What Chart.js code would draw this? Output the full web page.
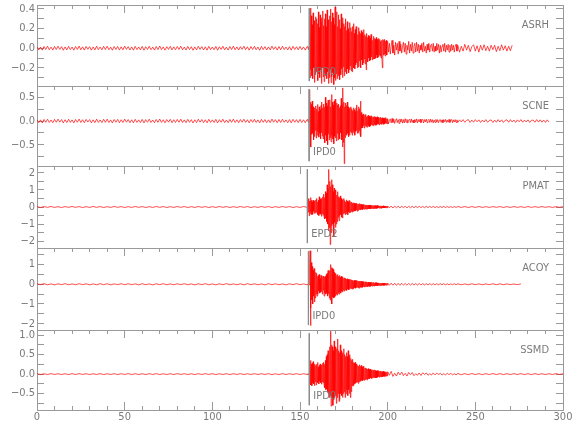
<!DOCTYPE html>
<html>
<head>
<meta charset="utf-8">
<script src="https://cdn.jsdelivr.net/npm/chart.js@4.4.1/dist/chart.umd.min.js"></script>
<style>
  body { margin: 0; background: #fff; overflow: hidden; }
  #wrap { position: relative; width: 580px; height: 440px; }
  #wrap canvas { position: absolute; left: 0; top: 0; }
</style>
</head>
<body>
<div id="wrap"></div>
<script>
// five station traces; each is sampled in four segments (noise, event, coda, tail)
const stations = ["ASRH", "SCNE", "PMAT", "ACOY", "SSMD"];
const pickLabels = ["IPD0", "IPD0", "EPD2", "IPD0", "IPD0"];
const pickTimes = [155.3, 155.2, 154.2, 154.8, 155.3];
const xTickLabels = [0, 50, 100, 150, 200, 250, 300];

// segment start times (s) and per-station sample intervals (s)
const segStart = { noise: 0, event: 154.5, coda: 200, tail: 240 };
const noiseStep = [1, 1, 2, 2, 2];
const eventStep = [0.25, 0.25, 0.25, 0.25, 0.25];
const codaStep = [0.5, 0.5, 1, 1, 1];
const tailStep = [1, 1, 2, 2, 2];

const asrhNoise = [
  0.015,-0.018,0.012,-0.02,0.017,-0.013,0.021,-0.016,0.011,-0.019,
  0.018,-0.014,0.02,-0.012,0.016,-0.021,0.013,-0.017,0.019,-0.015,
  0.012,-0.02,0.017,-0.013,0.022,-0.016,0.014,-0.019,0.018,-0.011,
  0.016,-0.02,0.013,-0.018,0.021,-0.015,0.012,-0.017,0.019,-0.014,
  0.02,-0.016,0.011,-0.021,0.017,-0.013,0.018,-0.019,0.014,-0.016,
  0.021,-0.012,0.016,-0.018,0.013,-0.02,0.019,-0.015,0.012,-0.017,
  0.018,-0.021,0.015,-0.013,0.02,-0.016,0.011,-0.019,0.017,-0.014,
  0.022,-0.015,0.013,-0.02,0.016,-0.012,0.019,-0.018,0.014,-0.016,
  0.017,-0.013,0.021,-0.016,0.012,-0.019,0.018,-0.014,0.015,-0.021,
  0.013,-0.017,0.02,-0.012,0.016,-0.018,0.014,-0.02,0.019,-0.015,
  0.012,-0.016,0.018,-0.021,0.015,-0.013,0.02,-0.017,0.011,-0.019,
  0.017,-0.014,0.021,-0.016,0.013,-0.018,0.016,-0.012,0.02,-0.015,
  0.014,-0.02,0.017,-0.013,0.019,-0.016,0.012,-0.021,0.018,-0.014,
  0.016,-0.018,0.013,-0.017,0.021,-0.012,0.015,-0.019,0.017,-0.016,
  0.02,-0.014,0.012,-0.018,0.016,-0.02,0.019,-0.013,0.015,-0.017,
  0.018,-0.015,0.013,-0.019,0.016
];
const asrhEvent = [
  0.012,-0.015,0.01,-0.012,0.15,-0.3,0.41,-0.22,0.33,-0.28,
  0.24,-0.31,0.36,-0.2,0.28,-0.35,0.19,-0.27,0.32,-0.24,
  0.3,-0.18,0.25,-0.33,0.37,-0.26,0.21,-0.3,0.34,-0.22,
  0.27,-0.36,0.31,-0.2,0.38,-0.29,0.23,-0.34,0.3,-0.25,
  0.35,-0.28,0.22,-0.31,0.39,-0.24,0.29,-0.36,0.26,-0.3,
  0.33,-0.22,0.4,-0.35,0.27,-0.29,0.36,-0.25,0.31,-0.37,
  0.24,-0.3,0.42,-0.33,0.28,-0.26,0.37,-0.31,0.22,-0.28,
  0.34,-0.24,0.29,-0.32,0.2,-0.27,0.35,-0.21,0.26,-0.3,
  0.31,-0.19,0.25,-0.28,0.22,-0.24,0.3,-0.2,0.18,-0.26,
  0.27,-0.21,0.2,-0.25,0.16,-0.22,0.26,-0.18,0.21,-0.23,
  0.17,-0.24,0.22,-0.16,0.25,-0.2,0.15,-0.21,0.19,-0.17,
  0.22,-0.15,0.18,-0.2,0.14,-0.19,0.21,-0.13,0.17,-0.18,
  0.15,-0.2,0.18,-0.12,0.16,-0.17,0.13,-0.15,0.19,-0.11,
  0.14,-0.16,0.12,-0.22,0.15,-0.12,0.11,-0.14,0.13,-0.1,
  0.12,-0.13,0.1,-0.12,0.14,-0.09,0.11,-0.12,0.08,-0.11,
  0.12,-0.08,0.1,-0.11,0.09,-0.1,0.11,-0.07,0.09,-0.1,
  0.08,-0.09,0.1,-0.07,0.09,-0.08,0.07,-0.1,0.08,-0.07,
  -0.2,0.09,-0.07,0.08,-0.06,0.09,-0.08,0.07,-0.06,0.08,
  -0.07,0.06
];
const asrhCoda = [
  0.07,-0.04,0.05,-0.06,0.02,0.08,-0.05,0.03,-0.07,0.06,
  -0.02,0.05,-0.06,0.07,-0.03,0.04,-0.05,0.02,0.06,-0.04,
  0.05,-0.06,0.03,-0.02,0.07,-0.05,0.04,-0.03,0.06,-0.05,
  0.02,0.05,-0.04,0.06,-0.03,0.04,-0.05,0.03,-0.02,0.05,
  -0.04,0.06,-0.03,0.02,-0.05,0.04,-0.02,0.05,-0.04,0.03,
  0.04,-0.03,0.05,-0.04,0.02,-0.03,0.05,-0.02,0.04,-0.05,
  0.03,-0.04,0.02,0.04,-0.03,0.05,-0.04,0.03,-0.02,0.04,
  -0.04,0.03,-0.03,0.04,-0.02,0.03,-0.04,0.02,0.04,-0.03
];
const asrhTail = [
  0.03,-0.04,0.02,-0.03,0.04,-0.02,0.03,-0.035,0.015,0.035,
  -0.03,0.025,-0.04,0.03,-0.02,0.035,-0.025,0.02,-0.03,0.03,
  -0.015,0.03,-0.035,0.02,-0.025,0.035,-0.02,0.025,-0.03,0.02,
  -0.025,0.03
];

const scneNoise = [
  0.03,-0.035,0.025,-0.04,0.033,-0.027,0.038,-0.03,0.022,-0.036,
  0.034,-0.026,0.04,-0.024,0.031,-0.038,0.027,-0.033,0.036,-0.029,
  0.024,-0.039,0.032,-0.026,0.041,-0.031,0.028,-0.035,0.034,-0.022,
  0.031,-0.038,0.026,-0.034,0.04,-0.029,0.023,-0.033,0.037,-0.027,
  0.039,-0.031,0.022,-0.04,0.033,-0.025,0.035,-0.037,0.027,-0.031,
  0.04,-0.024,0.031,-0.035,0.026,-0.038,0.036,-0.029,0.024,-0.033,
  0.035,-0.04,0.029,-0.026,0.038,-0.031,0.022,-0.036,0.033,-0.027,
  0.041,-0.029,0.026,-0.038,0.031,-0.024,0.036,-0.035,0.027,-0.031,
  0.033,-0.026,0.04,-0.031,0.024,-0.036,0.035,-0.027,0.029,-0.04,
  0.026,-0.033,0.038,-0.024,0.031,-0.035,0.027,-0.038,0.036,-0.029,
  0.024,-0.031,0.035,-0.04,0.029,-0.026,0.038,-0.033,0.022,-0.036,
  0.033,-0.027,0.04,-0.031,0.026,-0.035,0.031,-0.024,0.038,-0.029,
  0.027,-0.038,0.033,-0.026,0.036,-0.031,0.024,-0.04,0.035,-0.027,
  0.031,-0.035,0.026,-0.033,0.04,-0.024,0.029,-0.036,0.033,-0.031,
  0.038,-0.027,0.024,-0.035,0.031,-0.038,0.036,-0.026,0.029,-0.033,
  0.035,-0.029,0.026,-0.036,0.031
];
const scneEvent = [
  0.02,-0.03,0.025,-0.02,0.66,-0.3,0.4,-0.55,0.35,-0.28,
  0.42,-0.25,0.3,-0.4,0.22,-0.33,0.28,-0.2,0.32,-0.36,
  0.25,-0.3,0.35,-0.22,0.2,-0.34,0.3,-0.26,0.24,-0.38,
  0.33,-0.25,0.4,-0.32,0.28,-0.38,0.36,-0.24,0.3,-0.46,
  0.5,-0.3,0.38,-0.42,0.32,-0.5,0.44,-0.28,0.36,-0.4,
  0.45,-0.35,0.3,-0.44,0.56,-0.3,0.4,-0.38,0.34,-0.48,
  0.42,-0.32,0.46,-0.36,0.3,-0.42,0.38,-0.26,0.34,-0.4,
  0.36,-0.3,0.28,-0.38,0.32,-0.25,0.48,-0.4,0.35,-0.55,
  0.7,-0.45,0.4,-0.9,0.3,-0.35,0.38,-0.28,0.33,-0.3,
  0.4,-0.26,0.3,-0.33,0.25,-0.3,0.28,-0.22,0.3,-0.25,
  0.26,-0.3,0.22,-0.24,0.28,-0.2,0.24,-0.3,0.2,-0.22,
  0.28,-0.2,0.34,-0.26,0.22,-0.25,0.3,-0.2,0.26,-0.28,
  0.42,-0.33,0.18,-0.15,0.12,-0.14,0.15,-0.1,0.13,-0.15,
  0.12,-0.1,0.14,-0.12,0.09,-0.13,0.11,-0.09,0.12,-0.11,
  0.1,-0.12,0.09,-0.1,0.11,-0.08,0.1,-0.09,0.08,-0.1,
  0.09,-0.08,0.1,-0.07,0.08,-0.09,0.07,-0.08,0.09,-0.06,
  0.08,-0.07,0.06,-0.08,0.07,-0.06,0.08,-0.05,0.06,-0.07,
  0.07,-0.05,0.06,-0.07,0.05,-0.06,0.07,-0.05,0.06,-0.05,
  0.05,-0.06
];
const scneCoda = [
  0.05,-0.06,0.02,0.045,-0.04,0.055,-0.03,0.04,-0.05,0.01,
  0.05,-0.035,0.03,-0.05,0.045,-0.02,0.04,-0.045,0.03,-0.04,
  0.05,-0.025,0.035,-0.045,0.02,0.04,-0.035,0.045,-0.03,0.02,
  -0.04,0.035,-0.025,0.045,-0.04,0.03,-0.02,0.04,-0.035,0.025,
  0.035,-0.04,0.03,-0.02,0.04,-0.035,0.015,0.035,-0.03,0.04,
  -0.025,0.03,-0.04,0.02,-0.03,0.035,-0.025,0.03,-0.035,0.02,
  0.03,-0.03,0.025,-0.035,0.03,-0.015,0.035,-0.03,0.02,-0.025,
  0.035,-0.03,0.02,0.03,-0.035,0.025,-0.02,0.03,-0.03,0.025
];
const scneTail = [
  -0.03,0.025,-0.02,0.03,-0.025,0.015,0.03,-0.03,0.02,-0.025,
  0.03,-0.015,0.025,-0.03,0.02,-0.02,0.03,-0.025,0.01,0.025,
  -0.03,0.02,-0.025,0.03,-0.02,0.025,-0.03,0.015,0.025,-0.025,
  0.03,-0.02,0.02,-0.03,0.025,-0.015,0.03,-0.025,0.02,-0.02,
  0.025,-0.03,0.015,0.02,-0.025,0.03,-0.02,0.025,-0.025,0.02,
  -0.03,0.025,-0.02
];

const pmatNoise = [
  0.02,-0.03,0.025,-0.02,0.03,-0.025,0.02,-0.03,0.025,-0.02,
  0.03,-0.02,0.025,-0.03,0.02,-0.025,0.03,-0.02,0.025,-0.03,
  0.02,-0.025,0.03,-0.02,0.025,-0.03,0.02,-0.025,0.03,-0.02,
  0.025,-0.03,0.02,-0.025,0.03,-0.02,0.025,-0.03,0.02,-0.025,
  0.03,-0.02,0.025,-0.03,0.02,-0.025,0.03,-0.02,0.025,-0.03,
  0.02,-0.025,0.03,-0.02,0.025,-0.03,0.02,-0.025,0.03,-0.02,
  0.025,-0.03,0.02,-0.025,0.03,-0.02,0.025,-0.03,0.02,-0.025,
  0.03,-0.02,0.025,-0.03,0.02,-0.025,0.03,-0.02
];
const pmatEvent = [
  0.45,-0.3,0.5,-0.52,0.35,-0.4,0.55,-0.3,0.38,-0.45,
  0.3,-0.42,0.4,-0.25,0.36,-0.38,0.28,-0.35,0.42,-0.3,
  0.5,-0.35,0.3,-0.45,0.4,-0.5,0.6,-0.38,0.45,-0.42,
  0.5,-0.55,0.45,-0.4,0.6,-0.48,0.75,-0.6,0.55,-0.7,
  0.9,-0.65,0.8,-0.85,1.3,-1.0,1.1,-1.4,2.2,-1.2,
  1.5,-2.2,1.2,-1.5,1.6,-1.1,1.3,-1.0,0.9,-1.7,
  1.1,-0.9,1.0,-1.2,0.8,-1.0,0.7,-0.85,0.9,-0.6,
  0.6,-0.8,0.55,-0.5,0.65,-0.45,0.5,-0.6,0.4,-0.65,
  0.45,-0.4,0.5,-0.35,0.38,-0.45,0.3,-0.4,0.42,-0.3,
  0.35,-0.45,0.3,-0.28,0.38,-0.35,0.25,-0.32,0.3,-0.25,
  0.28,-0.3,0.22,-0.26,0.25,-0.2,0.22,-0.24,0.2,-0.22,
  0.2,-0.18,0.22,-0.25,0.16,-0.2,0.18,-0.15,0.2,-0.16,
  0.18,-0.15,0.16,-0.14,0.13,-0.16,0.15,-0.12,0.14,-0.13,
  0.13,-0.12,0.11,-0.13,0.12,-0.1,0.11,-0.12,0.1,-0.11,
  0.12,-0.09,0.1,-0.11,0.09,-0.1,0.1,-0.08,0.09,-0.1,
  0.08,-0.09,0.1,-0.07,0.08,-0.09,0.07,-0.08,0.09,-0.07,
  0.07,-0.06,0.08,-0.07,0.06,-0.07,0.07,-0.06,0.05,-0.07,
  0.06,-0.05,0.07,-0.06,0.05,-0.06,0.06,-0.05,0.05,-0.06,
  0.05,-0.05
];
const pmatCoda = [
  0.06,-0.05,0.055,-0.06,0.05,-0.045,0.05,-0.05,0.045,-0.04,
  0.045,-0.05,0.04,-0.045,0.04,-0.04,0.045,-0.035,0.04,-0.04,
  0.035,-0.04,0.04,-0.035,0.035,-0.03,0.035,-0.035,0.03,-0.035,
  0.03,-0.03,0.035,-0.03,0.03,-0.03,0.025,-0.03,0.03,-0.025
];
const pmatTail = [
  0.03,-0.025,0.025,-0.03,0.025,-0.025,0.03,-0.025,0.02,-0.025,0.025,-0.02,0.025,-0.025,0.02,-0.025,
  0.025,-0.02,0.02,-0.025,0.025,-0.02,0.02,-0.02,0.025,-0.02,0.02,-0.025,0.02,-0.02,0.02
];

const acoyNoise = [
  0.025,-0.02,0.03,-0.025,0.02,-0.03,0.025,-0.02,0.03,-0.025,
  0.02,-0.025,0.03,-0.02,0.025,-0.03,0.02,-0.025,0.03,-0.02,
  0.025,-0.03,0.02,-0.02,0.03,-0.025,0.025,-0.02,0.02,-0.03,
  0.03,-0.025,0.02,-0.03,0.025,-0.02,0.03,-0.025,0.02,-0.025,
  0.025,-0.02,0.03,-0.025,0.02,-0.03,0.025,-0.02,0.03,-0.025,
  0.02,-0.03,0.025,-0.02,0.03,-0.025,0.02,-0.025,0.025,-0.03,
  0.03,-0.02,0.025,-0.025,0.02,-0.03,0.03,-0.02,0.025,-0.025,
  0.02,-0.03,0.025,-0.02,0.03,-0.025,0.02,-0.025
];
const acoyEvent = [
  0.02,-0.03,0.02,-0.03,0.9,1.7,-2.1,-1.2,1.1,-0.8,
  0.9,-1.0,0.7,-0.6,0.8,-0.9,0.5,-0.7,0.6,-0.5,
  0.55,-0.6,0.4,-0.5,0.45,-0.35,0.5,-0.45,0.3,-0.4,
  0.45,-0.38,0.35,-0.5,0.4,-0.3,0.42,-0.6,0.38,-0.45,
  0.4,-0.5,0.5,-0.42,0.55,-0.6,0.7,-0.5,0.65,-0.7,
  0.7,-0.8,1.0,-0.75,0.85,-1.0,0.8,-0.65,0.75,-0.7,
  0.6,-0.65,0.55,-0.6,0.5,-0.5,0.45,-0.55,0.5,-0.45,
  0.4,-0.5,0.45,-0.4,0.35,-0.45,0.4,-0.35,0.38,-0.4,
  0.35,-0.3,0.3,-0.35,0.33,-0.28,0.3,-0.32,0.26,-0.3,
  0.28,-0.25,0.25,-0.28,0.22,-0.26,0.26,-0.2,0.24,-0.22,
  0.22,-0.25,0.2,-0.22,0.18,-0.21,0.2,-0.18,0.19,-0.2,
  0.18,-0.17,0.2,-0.15,0.17,-0.18,0.15,-0.2,0.16,-0.15,
  0.16,-0.14,0.15,-0.16,0.13,-0.15,0.14,-0.12,0.13,-0.14,
  0.12,-0.13,0.13,-0.11,0.12,-0.12,0.1,-0.11,0.11,-0.1,
  0.1,-0.11,0.09,-0.1,0.1,-0.09,0.08,-0.1,0.09,-0.08,
  0.09,-0.08,0.07,-0.09,0.08,-0.07,0.08,-0.06,0.07,-0.08,
  0.06,-0.07,0.07,-0.06,0.06,-0.07,0.05,-0.06,0.06,-0.05,
  0.06,-0.05,0.05,-0.06,0.06,-0.05,0.04,-0.05,0.05,-0.05,
  0.05,-0.04
];
const acoyCoda = [
  0.06,-0.05,0.055,-0.05,0.05,-0.055,0.045,-0.05,0.05,-0.045,
  0.04,-0.045,0.045,-0.04,0.04,-0.04,0.035,-0.04,0.04,-0.035,
  0.035,-0.035,0.03,-0.035,0.035,-0.03,0.03,-0.035,0.03,-0.03,
  0.03,-0.025,0.03,-0.03,0.025,-0.03,0.025,-0.025,0.03,-0.025
];
const acoyTail = [
  0.025,-0.025,0.02,-0.025,0.025,-0.02,0.02,-0.025,0.02,-0.02,0.025,-0.02,0.02,-0.02,0.02,-0.02,0.015,-0.02,0.02
];

const ssmdNoise = [
  0.01,-0.012,0.008,-0.01,0.012,-0.009,0.01,-0.011,0.009,-0.012,
  0.011,-0.01,0.012,-0.008,0.01,-0.012,0.009,-0.01,0.012,-0.011,
  0.008,-0.01,0.011,-0.012,0.01,-0.009,0.012,-0.01,0.009,-0.011,
  0.01,-0.012,0.011,-0.009,0.012,-0.01,0.008,-0.011,0.01,-0.012,
  0.012,-0.009,0.01,-0.011,0.009,-0.012,0.011,-0.01,0.012,-0.008,
  0.01,-0.012,0.009,-0.01,0.011,-0.012,0.01,-0.009,0.012,-0.011,
  0.009,-0.01,0.012,-0.011,0.01,-0.009,0.011,-0.012,0.008,-0.01,
  0.012,-0.011,0.01,-0.009,0.011,-0.012,0.01,-0.01
];
const ssmdEvent = [
  0.01,-0.01,0.01,-0.012,0.3,-0.2,0.35,-0.28,0.25,-0.3,
  0.28,-0.22,0.32,-0.25,0.2,-0.3,0.26,-0.2,0.22,-0.28,
  0.25,-0.2,0.3,-0.22,0.18,-0.25,0.22,-0.18,0.26,-0.22,
  0.2,-0.26,0.24,-0.2,0.28,-0.22,0.3,-0.3,0.25,-0.35,
  0.35,-0.4,0.45,-0.38,0.5,-0.45,0.6,-0.5,0.55,-0.6,
  0.7,-0.55,1.1,-0.82,0.75,-0.6,0.7,-0.8,0.6,-0.65,
  0.85,-0.6,0.7,-0.55,0.6,-0.75,0.65,-0.6,0.9,-0.5,
  0.6,-0.7,0.55,-0.65,0.75,-0.5,0.6,-0.55,0.5,-0.6,
  0.55,-0.5,0.65,-0.45,0.5,-0.6,0.45,-0.5,0.55,-0.4,
  0.45,-0.55,0.6,-0.4,0.45,-0.5,0.5,-0.6,0.4,-0.45,
  0.35,-0.3,0.38,-0.3,0.3,-0.28,0.28,-0.25,0.3,-0.22,
  0.26,-0.22,0.25,-0.2,0.22,-0.24,0.2,-0.2,0.24,-0.18,
  0.2,-0.18,0.22,-0.16,0.18,-0.17,0.2,-0.15,0.16,-0.16,
  0.15,-0.14,0.16,-0.13,0.14,-0.15,0.13,-0.12,0.14,-0.12,
  0.12,-0.11,0.13,-0.1,0.11,-0.12,0.1,-0.1,0.11,-0.09,
  0.1,-0.09,0.11,-0.08,0.09,-0.1,0.08,-0.09,0.09,-0.08,
  0.08,-0.07,0.09,-0.08,0.07,-0.07,0.08,-0.06,0.07,-0.07,
  0.06,-0.07,0.07,-0.05,0.06,-0.06,0.05,-0.06,0.06,-0.05,
  0.05,-0.05
];
const ssmdCoda = [
  0.06,-0.03,0.07,-0.06,0.02,-0.05,0.05,-0.02,0.05,-0.04,
  0.02,-0.05,0.04,-0.015,0.04,-0.04,0.01,-0.03,0.03,-0.035,
  0.035,-0.01,0.03,-0.03,0.01,-0.025,0.03,-0.02,0.025,-0.01,
  0.02,-0.025,0.01,-0.02,0.02,-0.015,0.02,-0.02,0.01,-0.02
];
const ssmdTail = [
  0.015,-0.015,0.012,-0.015,0.015,-0.012,0.012,-0.015,0.012,-0.012,0.015,-0.012,0.012,-0.012,0.01,-0.012,
  0.012,-0.01,0.012,-0.012,0.01,-0.012,0.012,-0.01,0.01,-0.012,0.01,-0.01,0.012,-0.01,0.01
];

const traces = [
  { noise: asrhNoise, event: asrhEvent, coda: asrhCoda, tail: asrhTail },
  { noise: scneNoise, event: scneEvent, coda: scneCoda, tail: scneTail },
  { noise: pmatNoise, event: pmatEvent, coda: pmatCoda, tail: pmatTail },
  { noise: acoyNoise, event: acoyEvent, coda: acoyCoda, tail: acoyTail },
  { noise: ssmdNoise, event: ssmdEvent, coda: ssmdCoda, tail: ssmdTail }
];

// panel layout (pixels) and amplitude axes
const panelTop = [5, 86, 166, 248, 330];
const panelBottom = [86, 166, 248, 330, 410];
const yMin = [-0.385, -0.95, -2.4, -2.32, -0.92];
const yMax = [0.44, 0.74, 2.4, 1.84, 1.13];
const yTickStep = [0.1, 0.25, 0.5, 0.5, 0.25];
const yLabelStep = [0.2, 0.5, 1, 1, 0.5];
const yDecimals = [1, 1, 0, 0, 1];

const fontFamily = '"Liberation Sans Narrow", "DejaVu Sans Condensed", sans-serif';
const lineColor = "#9a9a9a";
const textColor = "#7a7a7a";
Chart.defaults.font.family = fontFamily;
Chart.defaults.font.size = 11;

function toPoints(tr, p) {
  const steps = { noise: noiseStep[p], event: eventStep[p], coda: codaStep[p], tail: tailStep[p] };
  const pts = [];
  ["noise", "event", "coda", "tail"].forEach(function (k) {
    tr[k].forEach(function (v, i) {
      pts.push({ x: segStart[k] + i * steps[k], y: v });
    });
  });
  return pts;
}

const panelText = {
  id: "panelText",
  afterDatasetsDraw(chart, args, opts) {
    const { ctx, chartArea } = chart;
    ctx.save();
    ctx.fillStyle = textColor;
    ctx.font = "11px " + fontFamily;
    ctx.textBaseline = "middle";
    ctx.textAlign = "right";
    ctx.fillText(opts.station, chartArea.right - 14, chartArea.top + 20);
    ctx.textAlign = "left";
    ctx.fillText(opts.pick, chart.scales.x.getPixelForValue(opts.time) + 4, chartArea.bottom - 14);
    ctx.restore();
  }
};

// fix an axis box to a given thickness and drop label overflow padding
function fitTo(size) {
  return function (scale) {
    if (scale.isHorizontal()) scale.height = size;
    else scale.width = size;
    scale.paddingTop = 0;
    scale.paddingBottom = 0;
    scale.paddingLeft = 0;
    scale.paddingRight = 0;
  };
}

const wrap = document.getElementById("wrap");

stations.forEach(function (name, p) {
  const canvas = document.createElement("canvas");
  canvas.width = 580;
  canvas.height = 440;
  wrap.appendChild(canvas);
  const last = p === stations.length - 1;
  const range = yMax[p] - yMin[p];
  const xAxisH = last ? 30 : 0;

  const fmt = function (value) {
    const r = value / yLabelStep[p];
    if (Math.abs(r - Math.round(r)) > 1e-6) return "";
    return value.toFixed(yDecimals[p]).replace("-", "\u2212");
  };

  new Chart(canvas, {
    type: "line",
    data: {
      datasets: [
        {
          data: [
            { x: pickTimes[p], y: yMax[p] - 0.04 * range },
            { x: pickTimes[p], y: yMin[p] + 0.06 * range }
          ],
          borderColor: "#8c8c8c",
          borderWidth: 1,
          pointRadius: 0
        },
        {
          data: toPoints(traces[p], p),
          borderColor: "rgb(255,0,0)",
          borderWidth: 0.7,
          pointRadius: 0,
          tension: 0
        }
      ]
    },
    options: {
      responsive: false,
      animation: false,
      events: [],
      layout: { padding: { left: 0, right: 17, top: panelTop[p], bottom: 440 - panelBottom[p] - xAxisH } },
      plugins: {
        legend: { display: false },
        tooltip: { enabled: false },
        panelText: { station: name, pick: pickLabels[p], time: pickTimes[p] }
      },
      scales: {
        xMinor: {
          type: "linear", axis: "x", position: "bottom", min: 0, max: 300, weight: 0, display: last,
          ticks: { display: false, stepSize: 10, autoSkip: false },
          grid: { drawOnChartArea: false, tickLength: -4, tickColor: lineColor },
          border: { display: false },
          afterFit: fitTo(0)
        },
        x: {
          type: "linear", position: "bottom", min: 0, max: 300, weight: 1,
          afterBuildTicks: function (s) { s.ticks = xTickLabels.map(function (v) { return { value: v }; }); },
          ticks: { display: last, autoSkip: false, maxRotation: 0, padding: 9, color: textColor },
          grid: { drawOnChartArea: false, drawTicks: last, tickLength: -8, tickColor: lineColor },
          border: { color: lineColor },
          afterFit: fitTo(xAxisH)
        },
        xTop: {
          type: "linear", axis: "x", position: "top", min: 0, max: 300,
          ticks: { display: false, stepSize: 10, autoSkip: false },
          grid: { drawOnChartArea: false, tickLength: -4, tickColor: lineColor },
          border: { color: lineColor },
          afterFit: fitTo(0)
        },
        xTopMajor: {
          type: "linear", axis: "x", position: "top", min: 0, max: 300,
          ticks: { display: false, stepSize: 50, autoSkip: false },
          grid: { drawOnChartArea: false, tickLength: -8, tickColor: lineColor },
          border: { display: false },
          afterFit: fitTo(0)
        },
        y: {
          type: "linear", position: "left", min: yMin[p], max: yMax[p],
          ticks: { stepSize: yTickStep[p], autoSkip: false, includeBounds: false, padding: 9, color: textColor, callback: fmt },
          grid: { drawOnChartArea: false, tickLength: -7, tickColor: lineColor },
          border: { color: lineColor },
          afterFit: fitTo(37)
        },
        yRight: {
          type: "linear", axis: "y", position: "right", min: yMin[p], max: yMax[p],
          ticks: { display: false, stepSize: yTickStep[p], autoSkip: false, includeBounds: false },
          grid: { drawOnChartArea: false, tickLength: -7, tickColor: lineColor },
          border: { color: lineColor },
          afterFit: fitTo(0)
        }
      }
    },
    plugins: [panelText]
  });
});
</script>
</body>
</html>
